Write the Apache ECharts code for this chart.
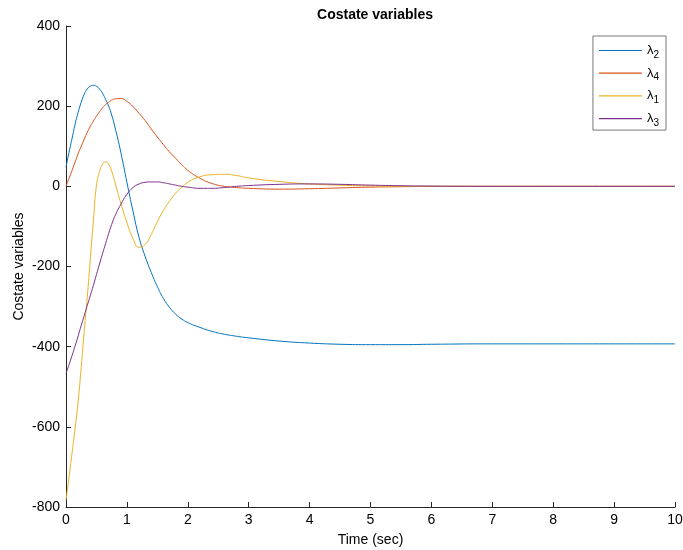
<!DOCTYPE html>
<html>
<head>
<meta charset="utf-8">
<title>Costate variables</title>
<script src="https://cdn.jsdelivr.net/npm/echarts@6/dist/echarts.min.js"></script>
<style>
  html, body { margin: 0; padding: 0; background: #fff; }
  #main { width: 683px; height: 550px; }
</style>
</head>
<body>
<div id="main"></div>
<script>
// sample times (sec)
var time = [0, 0.05, 0.1, 0.15, 0.2, 0.25, 0.3, 0.35, 0.4, 0.45, 0.5, 0.55, 0.6, 0.65, 0.7, 0.75, 0.8, 0.9,
  1.0, 1.1, 1.2, 1.3, 1.4, 1.5, 1.6, 1.7, 1.8, 1.9, 2.0, 2.2, 2.4, 2.6, 2.8, 3.0, 3.5, 4, 4.5, 5, 5.5, 6, 7, 8, 9, 10]

var lambda2 = [48, 85, 120, 155, 185, 210, 230, 243, 250, 252, 250, 243, 232, 217, 200, 178, 150, 85,
  10, -62, -128, -175, -215, -250, -280, -302, -319, -331, -340, -352, -362, -369, -374, -378, -386, -391, -394, -395, -395, -394, -393, -393, -393, -393]
var lambda4 = [0, 20, 40, 61, 82, 100, 118, 135, 150, 163, 175, 186, 196, 204, 210, 215, 218, 219,
  212, 199, 182, 164, 143, 123, 104, 86, 70, 54, 40, 20, 7, 0, -3, -5, -7, -6, -4, -2, -1, 0, 0, 0, 0, 0]
var lambda1 = [-782, -725, -665, -603, -535, -452, -360, -275, -180, -85, 2, 37, 55, 61, 55, 38, 12, -42,
  -90, -130, -152, -145, -120, -88, -60, -37, -17, -3, 10, 24, 29, 30, 27, 21, 12, 6, 3, 1, 0, 0, 0, 0, 0, 0]
var lambda3 = [-467, -445, -422, -398, -373, -347, -322, -297, -272, -247, -220, -194, -168, -143, -118, -95, -75, -45,
  -20, -3, 6, 10, 11, 11, 9, 6, 3, 0, -2, -5, -5, -3, 0, 2, 5, 6, 5, 3, 1.5, 0.5, 0, 0, 0, 0]

var names = ['λ2', 'λ4', 'λ1', 'λ3']
var values = [lambda2, lambda4, lambda1, lambda3]
var colors = ['#0072BD', '#D95319', '#EDB120', '#7E2F8E']

var font = '"Liberation Sans", Arial, Helvetica, sans-serif'
var axisColor = '#262626'

var series = []
for (var i = 0; i < names.length; i++) {
  series.push({
    type: 'line',
    name: names[i],
    symbol: 'none',
    smooth: true,
    color: colors[i],
    lineStyle: { width: 1 },
    data: values[i].map(function (v, k) { return [time[k], v] })
  })
}

var chart = echarts.init(document.getElementById('main'))
chart.setOption({
  backgroundColor: '#fff',
  animation: false,
  title: {
    text: 'Costate variables',
    left: 370,
    textAlign: 'center',
    top: 3,
    textStyle: { fontFamily: font, fontSize: 14, fontWeight: 'bold', color: '#000' }
  },
  legend: {
    data: names,
    orient: 'vertical',
    right: 17,
    top: 36,
    padding: [8, 7, 2, 6],
    itemGap: 6.7,
    itemWidth: 43,
    itemHeight: 1.2,
    icon: 'rect',
    borderColor: '#777',
    borderWidth: 1,
    borderRadius: 0,
    formatter: function (n) {
      return '{l|λ}{s|' + n.slice(1) + '}'
    },
    textStyle: {
      color: '#000',
      rich: {
        l: { fontFamily: font, fontSize: 13, color: '#000' },
        s: { fontFamily: font, fontSize: 10, color: '#000', padding: [9, 0, 0, 0] }
      }
    }
  },
  grid: { left: 66, right: 8, top: 26, bottom: 43, outerBoundsMode: 'none' },
  xAxis: {
    type: 'value',
    min: 0,
    max: 10,
    interval: 1,
    name: 'Time (sec)',
    nameLocation: 'middle',
    nameGap: 26,
    nameTextStyle: { fontFamily: font, fontSize: 14, color: '#000' },
    axisLine: { show: true, onZero: false, lineStyle: { color: axisColor, width: 1 } },
    axisTick: { show: true, inside: true, length: 5, lineStyle: { color: axisColor } },
    axisLabel: { fontFamily: font, fontSize: 14, color: '#000', margin: 6 },
    splitLine: { show: false }
  },
  yAxis: {
    type: 'value',
    min: -800,
    max: 400,
    interval: 200,
    name: 'Costate variables',
    nameLocation: 'middle',
    nameGap: 40,
    nameMoveOverlap: false,
    nameTextStyle: { fontFamily: font, fontSize: 14, color: '#000' },
    axisLine: { show: true, onZero: false, lineStyle: { color: axisColor, width: 1 } },
    axisTick: { show: true, inside: true, length: 5, lineStyle: { color: axisColor } },
    axisLabel: { fontFamily: font, fontSize: 14, color: '#000', margin: 6 },
    splitLine: { show: false }
  },
  series: series
})
</script>
</body>
</html>
